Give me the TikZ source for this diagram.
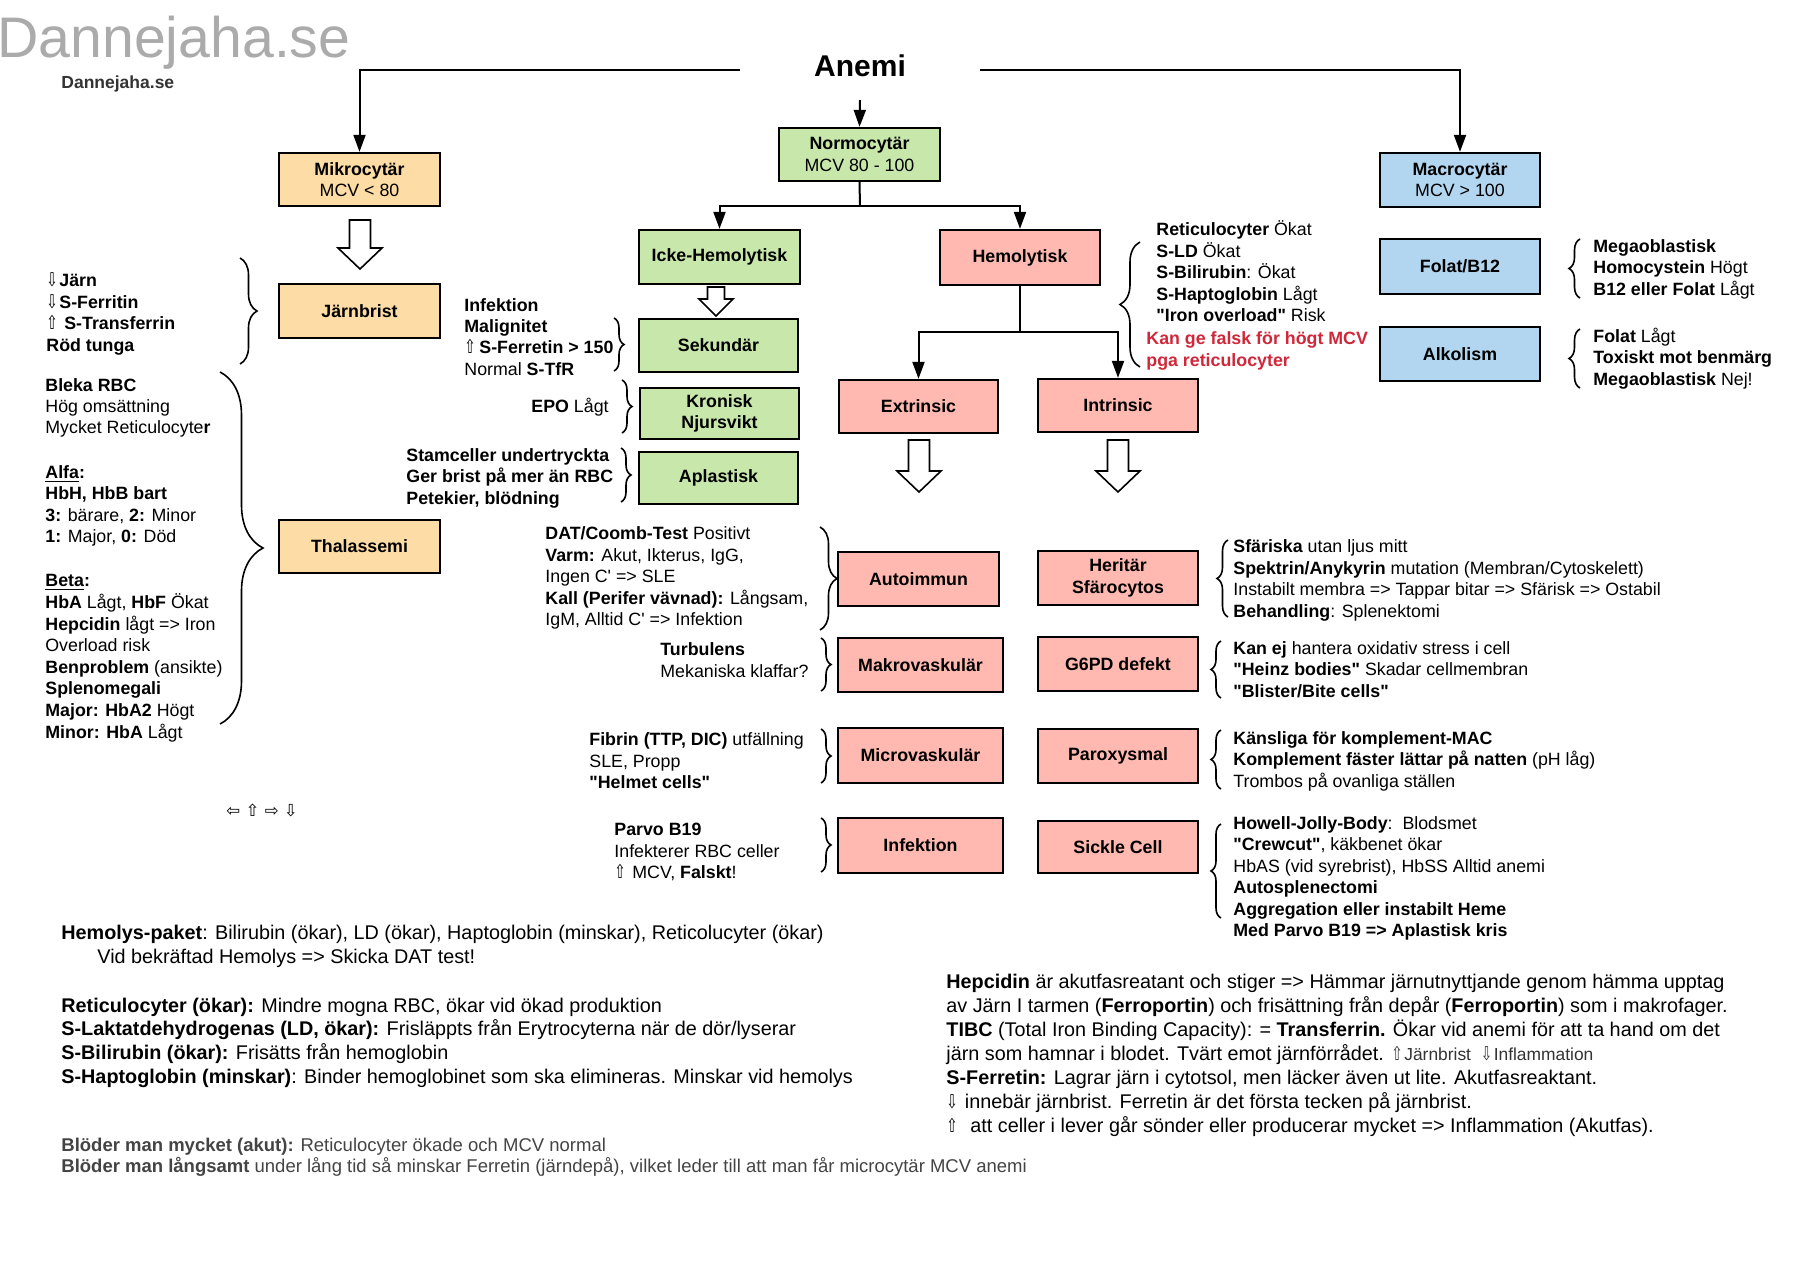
\documentclass[tikz,border=0pt]{standalone}
\usepackage{fontspec}
\usepackage{graphicx}
\setmainfont{Liberation Sans}[Ligatures=TeXOff]
\newfontfamily\symfont{DejaVu Sans}
\usetikzlibrary{arrows.meta,decorations.pathreplacing}
\definecolor{cOr}{HTML}{FDDCA6}
\definecolor{cGr}{HTML}{C7E7AB}
\definecolor{cRd}{HTML}{FFB9B0}
\definecolor{cBl}{HTML}{B2D5F0}
\definecolor{cRedTxt}{HTML}{D0283A}
\definecolor{cWm}{HTML}{ABABAB}
\definecolor{cDk}{HTML}{333333}
\definecolor{cGrey}{HTML}{444444}
\newcommand\arrU[1][6.5pt]{\makebox[#1][l]{\scalebox{0.72}[1]{\symfont\fontsize{9.5}{10}\selectfont ⇧}}}
\newcommand\arrD[1][6.5pt]{\makebox[#1][l]{\scalebox{0.72}[1]{\symfont\fontsize{9.5}{10}\selectfont ⇩}}}
\newcommand\bx[7]{\node[bx,fill=#6,minimum width={(#4-#2)*0.5pt},minimum height={(#5-#3)*0.5pt}] (#1) at ({(#2+#4)/2},{(#3+#5)/2}) {#7};}
\newcommand\harr[6]{\draw[hollow] ({#1-#5},#2) -- ({#1+#5},#2) -- ({#1+#5},#3) -- ({#1+#6},#3) -- (#1,#4) -- ({#1-#6},#3) -- ({#1-#5},#3) -- cycle;}
\newcommand\txtlines[4][tx]{\foreach \yy/\lt [count=\li] in {#4} {\node[#1] (#2-\li) at (#3,\yy) {\lt};}}
\begin{document}
\begin{tikzpicture}[x=0.5pt,y=-0.5pt,
  bx/.style={draw=black,line width=1.15pt,inner sep=0pt,align=center,font=\fontsize{8.9}{10.8}\selectfont\bfseries},
  tx/.style={anchor=base west,inner sep=0pt,font=\fontsize{8.9}{10.7}\selectfont},
  txr/.style={tx,anchor=base east},
  txb/.style={tx,font=\fontsize{9.9}{12}\selectfont},
  txg/.style={tx,font=\fontsize{9.25}{11}\selectfont,text=cGrey},
  txred/.style={tx,font=\fontsize{8.9}{10.7}\selectfont\bfseries,text=cRedTxt},
  ln/.style={line width=1pt},
  arr/.style={line width=1pt,-{Triangle[length=8.5pt,width=6pt]}},
  hollow/.style={draw=black,line width=0.8pt,fill=white,line join=miter},
  brc/.style={decorate,decoration={brace,amplitude=#1},line width=0.8pt}
]
\useasboundingbox (0,0) rectangle (1820,1275);
\fill[white] (0,0) rectangle (1820,1275);

% titles
\node[tx,font=\fontsize{28.6}{30}\selectfont,text=cWm] (wm) at (-3,57) {Dannejaha.se};
\node[tx,font=\fontsize{8.75}{10}\selectfont\bfseries,text=cDk] (wm2) at (61,88) {Dannejaha.se};
\node[anchor=base,inner sep=0pt,font=\fontsize{15}{18}\selectfont\bfseries] (anemi) at (860,76) {Anemi};

% boxes
\bx{mikro}{279}{153}{440}{206}{cOr}{Mikrocytär\\\textmd{MCV < 80}}
\bx{jarn}{279}{284}{440}{338}{cOr}{Järnbrist}
\bx{thal}{279}{520}{440}{573}{cOr}{Thalassemi}
\bx{normo}{779}{128}{940}{181}{cGr}{Normocytär\\\textmd{MCV 80 - 100}}
\bx{icke}{639}{230}{800}{284}{cGr}{Icke-Hemolytisk}
\bx{sek}{639}{319}{798}{372}{cGr}{Sekundär}
\bx{kron}{640}{388}{799}{439}{cGr}{Kronisk\\Njursvikt}
\bx{apl}{639}{452}{798}{504}{cGr}{Aplastisk}
\bx{hemo}{940}{230}{1100}{285}{cRd}{Hemolytisk}
\bx{extr}{839}{380}{998}{433}{cRd}{Extrinsic}
\bx{intr}{1038}{379}{1198}{432}{cRd}{Intrinsic}
\bx{auto}{838}{552}{999}{606}{cRd}{Autoimmun}
\bx{makro}{838}{638}{1003}{692}{cRd}{Makrovaskulär}
\bx{micro}{838}{728}{1003}{783}{cRd}{Microvaskulär}
\bx{inf}{838}{818}{1003}{873}{cRd}{Infektion}
\bx{her}{1038}{551}{1198}{605}{cRd}{Heritär\\Sfärocytos}
\bx{g6pd}{1038}{637}{1198}{691}{cRd}{G6PD defekt}
\bx{parox}{1038}{729}{1198}{783}{cRd}{Paroxysmal}
\bx{sickle}{1038}{821}{1198}{873}{cRd}{Sickle Cell}
\bx{macro}{1380}{153}{1540}{207}{cBl}{Macrocytär\\\textmd{MCV > 100}}
\bx{folat}{1380}{239}{1540}{294}{cBl}{Folat/B12}
\bx{alk}{1380}{327}{1540}{381}{cBl}{Alkolism}

% connectors
\coordinate (aL) at (740,70);
\coordinate (aR) at (980,70);
\coordinate (aD) at (860,100);
\draw[arr] (aL) -| (mikro.north);
\draw[arr] (aR) -| (macro.north);
\draw[arr] (aD) -- (normo.north);
\coordinate (nj) at (860,206);
\draw[ln] (normo.south) -- (nj);
\draw[arr] (nj) -| (icke.north);
\draw[arr] (nj) -| (hemo.north);
\coordinate (hj) at (1020,332);
\draw[ln] (hemo.south) -- (hj);
\draw[arr] (hj) -| (extr.north);
\draw[arr] (hj) -| (intr.north);

% hollow arrows
\harr{360}{220}{248}{269}{10.5}{22}
\harr{716}{287}{299}{316}{8.5}{17}
\harr{919}{440}{471}{492}{10.5}{22}
\harr{1118}{440}{471}{492}{10.5}{22}

% braces
\draw[brc=8.5pt] (240,258) -- (240,364);
\draw[brc=21.5pt] (220,372) -- (220,724);
\draw[brc=5pt] (614,318) -- (614,371);
\draw[brc=5pt] (622,380) -- (622,433);
\draw[brc=5pt] (621,448) -- (621,502);
\draw[brc=10pt] (1140,367) -- (1140,242);
\draw[brc=5.5pt] (1580,298) -- (1580,239);
\draw[brc=5.5pt] (1580,388) -- (1580,329);
\draw[brc=8.5pt] (820,527) -- (820,630);
\draw[brc=5pt] (821,638) -- (821,691);
\draw[brc=5pt] (821,729) -- (821,783);
\draw[brc=5pt] (821,818) -- (821,872);
\draw[brc=5.5pt] (1228,617) -- (1228,540);
\draw[brc=5pt] (1221,698) -- (1221,641);
\draw[brc=5pt] (1221,789) -- (1221,730);
\draw[brc=5pt] (1221,918) -- (1221,824);

% texts
\txtlines{lj}{46}{286/{\arrD\textbf{Järn}}, 308/{\arrD\textbf{S-Ferritin}}, 329/{\arrU\ \textbf{S-Transferrin}}, 351/{\textbf{Röd tunga}}}
\txtlines{lt}{45}{391/{\textbf{Bleka RBC}}, 412/{Hög omsättning}, 433/{Mycket Reticulocyte\textbf{r}}, 478/{\underline{\textbf{Alfa}}\textbf{:}}, 499/{\textbf{HbH, HbB bart}}, 521/{\textbf{3:} bärare, \textbf{2:} Minor}, 542/{\textbf{1:} Major, \textbf{0:} Död}, 586/{\underline{\textbf{Beta}}\textbf{:}}, 608/{\textbf{HbA} Lågt, \textbf{HbF} Ökat}, 630/{\textbf{Hepcidin} lågt => Iron}, 651/{Overload risk}, 673/{\textbf{Benproblem} (ansikte)}, 694/{\textbf{Splenomegali}}, 716/{\textbf{Major: HbA2} Högt}, 738/{\textbf{Minor: HbA} Lågt}}
\txtlines{ls}{464}{311/{\textbf{Infektion}}, 332/{\textbf{Malignitet}}, 353/{\arrU[7.5pt]\textbf{S-Ferretin > 150}}, 375/{Normal \textbf{S-TfR}}}
\node[txr] (epo) at (609,412) {\textbf{EPO} Lågt};
\txtlines{la}{406}{461/{\textbf{Stamceller undertryckta}}, 482/{\textbf{Ger brist på mer än RBC}}, 504/{\textbf{Petekier, blödning}}}
\txtlines{ld}{545}{539/{\textbf{DAT/Coomb-Test} Positivt}, 561/{\textbf{Varm:} Akut, Ikterus, IgG,}, 582/{Ingen C' => SLE}, 604/{\textbf{Kall (Perifer vävnad):} Långsam,}, 625/{IgM, Alltid C' => Infektion}}
\txtlines{lm}{660}{655/{\textbf{Turbulens}}, 677/{Mekaniska klaffar?}}
\txtlines{lf}{589}{745/{\textbf{Fibrin (TTP, DIC)} utfällning}, 767/{SLE, Propp}, 788/{\textbf{"Helmet cells"}}}
\txtlines{lp}{614}{835/{\textbf{Parvo B19}}, 857/{Infekterer RBC celler}, 878/{\arrU\ MCV, \textbf{Falskt}!}}
\txtlines{lh}{1156}{235/{\textbf{Reticulocyter} Ökat}, 257/{\textbf{S-LD} Ökat}, 278/{\textbf{S-Bilirubin}: Ökat}, 300/{\textbf{S-Haptoglobin} Lågt}, 321/{\textbf{"Iron overload"} Risk}}
\txtlines[txred]{lr}{1146}{344/{Kan ge falsk för högt MCV}, 366/{pga reticulocyter}}
\txtlines{lfo}{1593}{252/{\textbf{Megaoblastisk}}, 273/{\textbf{Homocystein} Högt}, 295/{\textbf{B12 eller Folat} Lågt}}
\txtlines{lal}{1593}{342/{\textbf{Folat} Lågt}, 363/{\textbf{Toxiskt mot benmärg}}, 385/{\textbf{Megaoblastisk} Nej!}}
\txtlines{lhe}{1233}{552/{\textbf{Sfäriska} utan ljus mitt}, 574/{\textbf{Spektrin/Anykyrin} mutation (Membran/Cytoskelett)}, 595/{Instabilt membra => Tappar bitar => Sfärisk => Ostabil}, 617/{\textbf{Behandling}: Splenektomi}}
\txtlines{lg}{1233}{654/{\textbf{Kan ej} hantera oxidativ stress i cell}, 675/{\textbf{"Heinz bodies"} Skadar cellmembran}, 697/{\textbf{"Blister/Bite cells"}}}
\txtlines{lpx}{1233}{744/{\textbf{Känsliga för komplement-MAC}}, 765/{\textbf{Komplement fäster lättar på natten} (pH låg)}, 787/{Trombos på ovanliga ställen}}
\txtlines{lsc}{1233}{829/{\textbf{Howell-Jolly-Body}:\ \ Blodsmet}, 850/{\textbf{"Crewcut"}, käkbenet ökar}, 872/{HbAS (vid syrebrist), HbSS Alltid anemi}, 893/{\textbf{Autosplenectomi}}, 915/{\textbf{Aggregation eller instabilt Heme}}, 936/{\textbf{Med Parvo B19 => Aplastisk kris}}}
\node[tx,font=\symfont\fontsize{8.3}{9}\selectfont] (arrows) at (226,816) {⇦ ⇧ ⇨ ⇩};

% bottom left
\txtlines[txb]{lb}{61}{939/{\textbf{Hemolys-paket}: Bilirubin (ökar), LD (ökar), Haptoglobin (minskar), Reticolucyter (ökar)}, 1012/{\textbf{Reticulocyter (ökar):} Mindre mogna RBC, ökar vid ökad produktion}, 1035/{\textbf{S-Laktatdehydrogenas (LD, ökar):} Frisläppts från Erytrocyterna när de dör/lyserar}, 1059/{\textbf{S-Bilirubin (ökar):} Frisätts från hemoglobin}, 1083/{\textbf{S-Haptoglobin (minskar)}: Binder hemoglobinet som ska elimineras. Minskar vid hemolys}}
\node[txb] (lbv) at (97,963) {Vid bekräftad Hemolys => Skicka DAT test!};
\txtlines[txg]{lbl}{61}{1151/{\textbf{Blöder man mycket (akut):} Reticulocyter ökade och MCV normal}, 1172/{\textbf{Blöder man långsamt} under lång tid så minskar Ferretin (järndepå), vilket leder till att man får microcytär MCV anemi}}

% bottom right
\txtlines[txb]{lx}{946}{988/{\textbf{Hepcidin} är akutfasreatant och stiger => Hämmar järnutnyttjande genom hämma upptag}, 1012/{av Järn I tarmen (\textbf{Ferroportin}) och frisättning från depår (\textbf{Ferroportin}) som i makrofager.}, 1036/{\textbf{TIBC} (Total Iron Binding Capacity): = \textbf{Transferrin.} Ökar vid anemi för att ta hand om det}, 1060/{järn som hamnar i blodet. Tvärt emot järnförrådet. {\fontsize{8.7}{10}\selectfont\color{cDk}\arrU Järnbrist\ \ \arrD Inflammation}}, 1084/{\textbf{S-Ferretin:} Lagrar järn i cytotsol, men läcker även ut lite. Akutfasreaktant.}, 1108/{\arrD\ innebär järnbrist. Ferretin är det första tecken på järnbrist.}, 1132/{\arrU\ \ att celler i lever går sönder eller producerar mycket => Inflammation (Akutfas).}}
\end{tikzpicture}
\end{document}
